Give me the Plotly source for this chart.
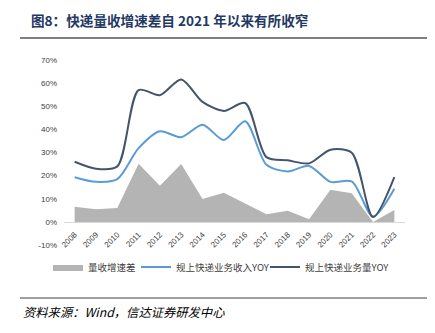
import plotly.graph_objects as go

years = [str(y) for y in range(2008, 2024)]
volume_yoy = [26.0, 23.0, 24.0, 57.0, 54.8, 61.6, 51.9, 48.0, 51.4, 28.0, 26.6, 25.3, 31.2, 29.9, 2.1, 19.4]
revenue_yoy = [19.3, 17.3, 18.5, 31.9, 39.2, 36.6, 42.0, 35.4, 43.5, 24.7, 21.8, 24.2, 17.3, 17.5, 2.3, 14.3]
gap = [6.5, 5.5, 6.0, 25.1, 15.6, 25.0, 9.9, 12.6, 7.9, 3.3, 4.8, 1.1, 13.9, 12.4, 0.0, 5.1]
y_ticks = [-10, 0, 10, 20, 30, 40, 50, 60, 70]
y_ticktext = [f"{v}%" for v in y_ticks]

fig = go.Figure()
fig.add_trace(go.Scatter(x=years, y=gap, name="量收增速差", mode="lines",
                         fill="tozeroy", fillcolor="#b4b4b4", legendwidth=43,
                         line=dict(width=0, color="#b4b4b4")))
fig.add_trace(go.Scatter(x=years, y=revenue_yoy, name="规上快递业务收入YOY", mode="lines",
                         legendwidth=84,
                         line=dict(color="#5b9bd5", width=2, shape="spline", smoothing=0.8)))
fig.add_trace(go.Scatter(x=years, y=volume_yoy, name="规上快递业务量YOY", mode="lines",
                         line=dict(color="#44546a", width=2, shape="spline", smoothing=0.8)))

# plot area: x 64..405, y 60..245 px
L, R, T, B = 64, 405, 60, 245
W, H = 435, 333
def px(x):
    return (x - L) / (R - L)
def py(y):
    return (B - y) / (B - T)

y_min, y_max = -10, 70

fig.update_layout(
    width=W, height=H,
    margin=dict(l=L, r=W - R, t=T, b=H - B),
    paper_bgcolor="white", plot_bgcolor="white",
    font=dict(family="Noto Sans CJK SC, Liberation Sans, sans-serif", color="#404040"),
    showlegend=True,
    legend=dict(orientation="h", x=px(48), y=py(267), xanchor="left", yanchor="middle",
                font=dict(size=9.5, color="#404040"), itemwidth=30,
                bgcolor="rgba(0,0,0,0)", tracegroupgap=0),
    xaxis=dict(type="category", range=[-0.5, 15.5], tickangle=-45,
               anchor="free", position=(0 - y_min) / (y_max - y_min),
               ticklabelstandoff=4,
               tickfont=dict(size=8, family="Liberation Sans, sans-serif", color="#404040"),
               showgrid=False, showline=True, linecolor="#d9d9d9", linewidth=1,
               ticks="", zeroline=False),
    yaxis=dict(range=[y_min, y_max], tickvals=y_ticks, ticktext=y_ticktext,
               ticklabelstandoff=6,
               tickfont=dict(size=8, family="Liberation Sans, sans-serif", color="#404040"),
               showgrid=False, zeroline=False, showline=False, ticks=""),
    annotations=[
        dict(text="<b>图8：快递量收增速差自 2021 年以来有所收窄</b>", xref="paper", yref="paper",
             x=px(29), y=py(20), xanchor="left", yanchor="middle", showarrow=False,
             font=dict(size=13.6, color="#1f3864", family="Noto Sans CJK SC, sans-serif")),
        dict(text="<i>资料来源：Wind，信达证券研发中心</i>", xref="paper", yref="paper",
             x=px(21), y=py(312), xanchor="left", yanchor="middle", showarrow=False,
             font=dict(size=12.3, color="#000000", family="Noto Sans CJK SC, serif")),
    ],
    shapes=[
        dict(type="line", xref="paper", yref="paper", x0=px(20), x1=px(427), y0=py(38), y1=py(38),
             line=dict(color="#7f7f7f", width=2)),
        dict(type="line", xref="paper", yref="paper", x0=px(20), x1=px(427), y0=py(298), y1=py(298),
             line=dict(color="#7f7f7f", width=1.5)),
    ],
)

fig.write_html("out.html")
